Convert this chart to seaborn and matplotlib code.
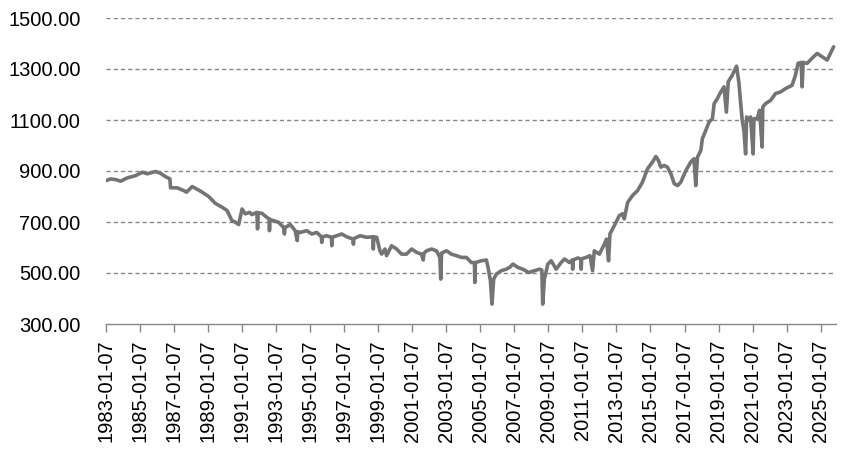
import numpy as np
import pandas as pd
import matplotlib
matplotlib.use("Agg")
import matplotlib.pyplot as plt
import matplotlib.dates as mdates
import seaborn as sns

# ---- data ----
years = [
    1983.00, 1983.29, 1983.60, 1983.88, 1984.27, 1984.76, 1985.15, 1985.44, 1985.93, 1986.22,
    1986.51, 1986.77, 1986.81, 1987.20, 1987.59, 1987.75, 1988.08, 1988.57, 1989.05, 1989.44,
    1989.84, 1990.13, 1990.42, 1990.62, 1990.81, 1991.01, 1991.20, 1991.45, 1991.59, 1991.88,
    1991.92, 1991.96, 1992.18, 1992.47, 1992.60, 1992.62, 1992.65, 1992.86, 1993.15, 1993.45,
    1993.50, 1993.53, 1993.84, 1994.13, 1994.25, 1994.29, 1994.42, 1994.81, 1995.11, 1995.40,
    1995.67, 1995.69, 1995.72, 1995.98, 1996.26, 1996.28, 1996.31, 1996.57, 1996.86, 1997.16,
    1997.53, 1997.55, 1997.58, 1997.94, 1998.33, 1998.70, 1998.72, 1998.75, 1998.92, 1999.11,
    1999.21, 1999.40, 1999.50, 1999.79, 2000.09, 2000.38, 2000.67, 2000.97, 2001.26, 2001.55,
    2001.65, 2001.70, 2001.85, 2002.14, 2002.43, 2002.63, 2002.68, 2002.73, 2002.82, 2003.02,
    2003.31, 2003.60, 2003.90, 2004.19, 2004.48, 2004.66, 2004.68, 2004.72, 2005.07, 2005.36,
    2005.46, 2005.60, 2005.69, 2005.79, 2005.95, 2006.24, 2006.53, 2006.73, 2006.92, 2007.21,
    2007.50, 2007.85, 2008.19, 2008.48, 2008.62, 2008.67, 2008.77, 2008.97, 2009.17, 2009.46,
    2009.75, 2009.95, 2010.24, 2010.41, 2010.43, 2010.46, 2010.73, 2010.91, 2010.93, 2010.96,
    2011.22, 2011.45, 2011.60, 2011.70, 2012.00, 2012.29, 2012.42, 2012.54, 2012.62, 2012.88,
    2013.17, 2013.36, 2013.46, 2013.66, 2013.95, 2014.24, 2014.53, 2014.83, 2015.12, 2015.32,
    2015.47, 2015.61, 2015.81, 2016.00, 2016.20, 2016.40, 2016.59, 2016.78, 2017.08, 2017.37,
    2017.56, 2017.66, 2017.76, 2017.96, 2018.05, 2018.25, 2018.44, 2018.64, 2018.74, 2018.93,
    2019.13, 2019.32, 2019.46, 2019.57, 2019.81, 2020.06, 2020.20, 2020.30, 2020.39, 2020.49,
    2020.59, 2020.65, 2020.73, 2020.88, 2021.03, 2021.08, 2021.27, 2021.41, 2021.56, 2021.60,
    2021.76, 2022.06, 2022.35, 2022.64, 2022.93, 2023.32, 2023.52, 2023.67, 2023.85, 2023.91,
    2023.97, 2024.20, 2024.49, 2024.79, 2025.08, 2025.38, 2025.57, 2025.76,
]
values = [
    862, 869, 866, 860, 873, 882, 895, 889, 898, 891,
    878, 869, 834, 834, 823, 817, 839, 821, 800, 773,
    758, 745, 705, 699, 690, 751, 732, 738, 729, 738,
    673, 736, 734, 718, 712, 666, 710, 705, 699, 679,
    653, 678, 690, 666, 627, 662, 659, 666, 653, 659,
    642, 620, 642, 646, 640, 607, 640, 646, 653, 642,
    633, 613, 635, 646, 640, 642, 594, 641, 640, 587,
    574, 594, 568, 607, 594, 574, 574, 594, 581, 574,
    551, 578, 587, 594, 587, 561, 476, 578, 581, 587,
    574, 568, 561, 561, 541, 541, 463, 541, 548, 551,
    522, 469, 378, 476, 496, 509, 515, 522, 535, 522,
    515, 502, 509, 515, 512, 378, 476, 535, 548, 515,
    541, 555, 541, 551, 515, 551, 559, 555, 515, 556,
    561, 568, 509, 587, 574, 613, 633, 548, 653, 686,
    725, 732, 712, 777, 804, 823, 856, 909, 935, 957,
    941, 915, 922, 915, 889, 850, 843, 856, 902, 935,
    948, 843, 954, 981, 1027, 1059, 1092, 1105, 1164, 1184,
    1210, 1230, 1131, 1250, 1276, 1311, 1244, 1164, 1099, 1059,
    967, 1112, 1099, 1112, 967, 1105, 1105, 1138, 994, 1151,
    1164, 1177, 1204, 1210, 1223, 1236, 1276, 1322, 1326, 1230,
    1326, 1322, 1342, 1361, 1348, 1335, 1361, 1387,
]
tick_years = list(range(1983, 2026, 2))
y_ticks = [300, 500, 700, 900, 1100, 1300, 1500]

origin = pd.Timestamp("1983-01-07")
dates = [origin + pd.to_timedelta((y - 1983) * 365.25, unit="D") for y in years]
df = pd.DataFrame({"date": dates, "value": values})

sns.set_style("white")
plt.rcParams["font.family"] = ["Liberation Sans", "DejaVu Sans"]
plt.rcParams["lines.scale_dashes"] = False

fig = plt.figure(figsize=(8.45, 4.55), dpi=100)
ax = fig.add_axes([105.7 / 845, 1 - 324 / 455, (836 - 105.7) / 845, (324 - 18) / 455])

sns.lineplot(data=df, x="date", y="value", ax=ax, color="#747474", linewidth=2.6)

ax.set_xlim(origin, pd.Timestamp("2025-12-01"))
ax.set_ylim(300, 1500)

tick_dates = [pd.Timestamp(f"{y}-01-07") for y in tick_years]
ax.set_xticks(tick_dates)
ax.set_xticklabels([d.strftime("%Y-%m-%d") for d in tick_dates], rotation=90,
                   fontsize=14.5, color="#000000")
ax.set_yticks(y_ticks)
ax.set_yticklabels([f"{v:.2f}" for v in y_ticks], fontsize=14.5, color="#000000")

ax.tick_params(axis="x", length=6, width=1, color="#868686", pad=5, direction="out", bottom=True)
ax.tick_params(axis="y", length=0, pad=18)

for v in y_ticks[1:]:
    ax.axhline(v, color="#868686", linewidth=1.0, linestyle=(0, (3, 2.2)), zorder=0)

for s in ["top", "right", "left"]:
    ax.spines[s].set_visible(False)
ax.spines["bottom"].set_color("#868686")
ax.spines["bottom"].set_linewidth(1.0)

ax.set_xlabel("")
ax.set_ylabel("")
ax.grid(False)

fig.savefig("out.png", dpi=100)
